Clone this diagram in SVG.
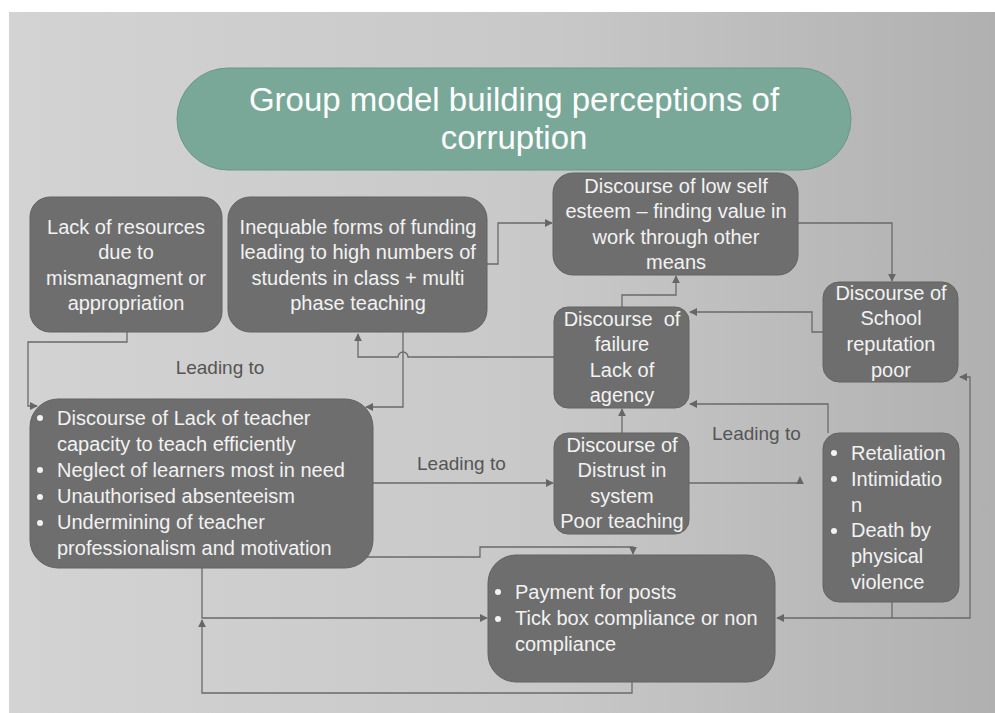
<svg xmlns="http://www.w3.org/2000/svg" width="995" height="713" viewBox="0 0 995 713">
<defs>
<linearGradient id="bg" x1="0" y1="0" x2="1" y2="0">
<stop offset="0" stop-color="#d3d3d3"/>
<stop offset="0.55" stop-color="#c8c8c8"/>
<stop offset="1" stop-color="#b0b0b0"/>
</linearGradient>
<marker id="ah" viewBox="0 0 10 10" refX="9" refY="5" markerWidth="8" markerHeight="8" markerUnits="userSpaceOnUse" orient="auto">
<path d="M0,0 L10,5 L0,10 Z" fill="#666"/>
</marker>
<style>
.node{fill:#6e6e6e;stroke:#626262;stroke-width:1}
.t{font-family:"Liberation Sans",Arial,sans-serif;font-size:20px;fill:#f2f2f2}
.c{text-anchor:middle}
.lbl{font-family:"Liberation Sans",Arial,sans-serif;font-size:19px;fill:#555555}
.con{fill:none;stroke:#6a6a6a;stroke-width:1.3;marker-end:url(#ah)}
.b{fill:#f2f2f2}
</style>
</defs>
<rect x="0" y="0" width="995" height="713" fill="#ffffff"/>
<rect x="9" y="12" width="986" height="701" fill="url(#bg)"/>

<g id="connectors">
<path class="con" d="M127,332 V342 H28 V406 H37"/>
<path class="con" d="M403,332 V407 H366"/>
<path class="con" d="M554,357 H408 A5,5 0 0 0 398,357 H358 V334"/>
<path class="con" d="M487,264 H498 V223 H552"/>
<path class="con" d="M798,223 H892 V281"/>
<path class="con" d="M622,307 V295 H676 V276"/>
<path class="con" d="M823,332 H812 V312 H690"/>
<path class="con" d="M828,433 V404 H690"/>
<path class="con" d="M622,433 V409"/>
<path class="con" d="M373,483 H553"/>
<path class="con" d="M689,483 H800 V477"/>
<path class="con" d="M202,568 V618 H487"/>
<path class="con" d="M632,682 V693 H202 V620"/>
<path class="con" d="M367,557 H480 V547 H633 V554"/>
<path class="con" d="M892,618 H777"/>
<path class="con" d="M892,618 V566"/>
<path class="con" d="M892,618 H970 V377 H960"/>
</g>

<g id="title">
<rect x="177" y="68" width="674" height="102" rx="51" ry="51" fill="#79a899" stroke="#6a9788" stroke-width="1"/>
<text class="c" x="514" y="111" font-family="'Liberation Sans',Arial,sans-serif" font-size="33" fill="#ffffff">Group model building perceptions of</text>
<text class="c" x="514" y="149" font-family="'Liberation Sans',Arial,sans-serif" font-size="33" fill="#ffffff">corruption</text>
</g>

<g id="lack-resources">
<rect class="node" x="30" y="197" width="192" height="135" rx="20"/>
<text class="t c" x="126" y="234">Lack of resources</text>
<text class="t c" x="126" y="259">due to</text>
<text class="t c" x="126" y="285">mismanagment or</text>
<text class="t c" x="126" y="310">appropriation</text>
</g>

<g id="inequable-funding">
<rect class="node" x="228" y="197" width="259" height="135" rx="22"/>
<text class="t c" x="358" y="234">Inequable forms of funding</text>
<text class="t c" x="358" y="259">leading to high numbers of</text>
<text class="t c" x="358" y="285">students in class + multi</text>
<text class="t c" x="358" y="310">phase teaching</text>
</g>

<g id="low-self-esteem">
<rect class="node" x="553" y="173" width="245" height="102" rx="20"/>
<text class="t c" x="676" y="193">Discourse of low self</text>
<text class="t c" x="676" y="218">esteem – finding value in</text>
<text class="t c" x="676" y="244">work through other</text>
<text class="t c" x="676" y="269">means</text>
</g>

<g id="school-reputation">
<rect class="node" x="823" y="282" width="135" height="100" rx="16"/>
<text class="t c" x="891" y="300">Discourse of</text>
<text class="t c" x="891" y="325">School</text>
<text class="t c" x="891" y="351">reputation</text>
<text class="t c" x="891" y="377">poor</text>
</g>

<g id="failure">
<rect class="node" x="554" y="307" width="135" height="101" rx="14"/>
<text class="t c" x="622" y="326" xml:space="preserve">Discourse  of</text>
<text class="t c" x="622" y="351">failure</text>
<text class="t c" x="622" y="377">Lack of</text>
<text class="t c" x="622" y="402">agency</text>
</g>

<g id="distrust">
<rect class="node" x="554" y="433" width="135" height="101" rx="14"/>
<text class="t c" x="622" y="452">Discourse of</text>
<text class="t c" x="622" y="477">Distrust in</text>
<text class="t c" x="622" y="503">system</text>
<text class="t c" x="622" y="528">Poor teaching</text>
</g>

<g id="retaliation">
<rect class="node" x="823" y="433" width="136" height="169" rx="16"/>
<circle class="b" cx="834" cy="453" r="3"/>
<circle class="b" cx="834" cy="479" r="3"/>
<circle class="b" cx="834" cy="531" r="3"/>
<text class="t" x="851" y="460">Retaliation</text>
<text class="t" x="851" y="486">Intimidatio</text>
<text class="t" x="851" y="512">n</text>
<text class="t" x="851" y="537">Death by</text>
<text class="t" x="851" y="563">physical</text>
<text class="t" x="851" y="589">violence</text>
</g>

<g id="teacher-capacity">
<rect class="node" x="30" y="399" width="343" height="169" rx="28"/>
<circle class="b" cx="40" cy="418" r="3"/>
<circle class="b" cx="40" cy="470" r="3"/>
<circle class="b" cx="40" cy="497" r="3"/>
<circle class="b" cx="40" cy="523" r="3"/>
<text class="t" x="57" y="425">Discourse of Lack of teacher</text>
<text class="t" x="57" y="451">capacity to teach efficiently</text>
<text class="t" x="57" y="477">Neglect of learners most in need</text>
<text class="t" x="57" y="503">Unauthorised absenteeism</text>
<text class="t" x="57" y="529">Undermining of teacher</text>
<text class="t" x="57" y="555">professionalism and motivation</text>
</g>

<g id="payment">
<rect class="node" x="488" y="555" width="287" height="127" rx="28"/>
<circle class="b" cx="498" cy="592" r="3"/>
<circle class="b" cx="498" cy="619" r="3"/>
<text class="t" x="515" y="599">Payment for posts</text>
<text class="t" x="515" y="625">Tick box compliance or non</text>
<text class="t" x="515" y="651">compliance</text>
</g>

<g id="labels">
<text class="lbl" x="220" y="374" text-anchor="middle">Leading to</text>
<text class="lbl" x="417" y="470">Leading to</text>
<text class="lbl" x="712" y="440">Leading to</text>
</g>
</svg>
